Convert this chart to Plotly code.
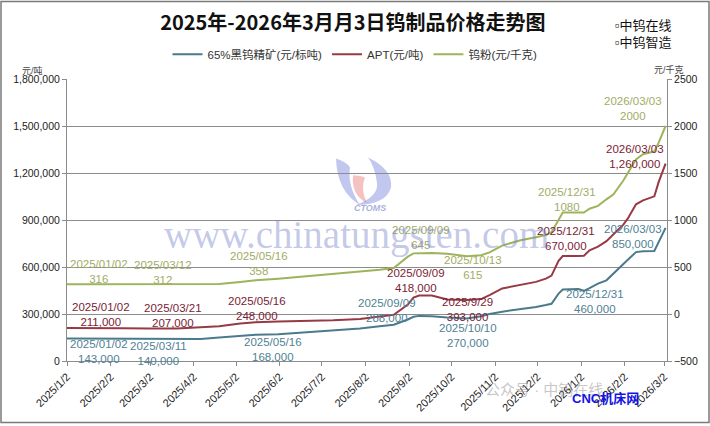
import plotly.graph_objects as go
import pandas as pd

# trading-day samples
dates = [
    "2025-01-02", "2025-01-20", "2025-02-10", "2025-03-01", "2025-03-12", "2025-03-21",
    "2025-04-07", "2025-04-20", "2025-05-05", "2025-05-16", "2025-06-01", "2025-06-20",
    "2025-07-10", "2025-07-29", "2025-08-12", "2025-08-22", "2025-09-01", "2025-09-05",
    "2025-09-09", "2025-09-18", "2025-09-29", "2025-10-10", "2025-10-13", "2025-10-23",
    "2025-10-29", "2025-11-07", "2025-11-20", "2025-12-01", "2025-12-08", "2025-12-12",
    "2025-12-17", "2025-12-20", "2025-12-31", "2026-01-04", "2026-01-08", "2026-01-14",
    "2026-01-20", "2026-01-25", "2026-02-01", "2026-02-04", "2026-02-10", "2026-02-15",
    "2026-02-23", "2026-02-26", "2026-03-03",
]
concentrate = [  # 65%黑钨精矿, 元/标吨
    143000, 142000, 141000, 140000, 140000, 140000,
    141000, 150000, 160000, 168000, 170000, 182000,
    195000, 208000, 222000, 232000, 265000, 282000,
    288000, 286000, 278000, 270000, 271000, 285000,
    300000, 315000, 330000, 345000, 357000, 365000,
    430000, 456000, 460000, 448000, 465000, 494000,
    515000, 560000, 620000, 645000, 695000, 700000,
    702000, 760000, 850000,
]
apt = [  # APT, 元/吨
    211000, 212000, 209000, 207000, 207000, 207000,
    215000, 222000, 240000, 248000, 252000, 255000,
    260000, 268000, 285000, 295000, 360000, 405000,
    418000, 418000, 393000, 390000, 390000, 395000,
    420000, 463000, 485000, 505000, 526000, 545000,
    640000, 670000, 670000, 672000, 706000, 730000,
    765000, 811000, 870000, 907000, 1000000, 1025000,
    1051000, 1140000, 1260000,
]
powder = [  # 钨粉, 元/千克
    316, 316, 313, 312, 312, 312,
    313, 320, 340, 358, 375, 400,
    425, 445, 470, 490, 610, 645,
    645, 650, 640, 620, 615, 625,
    655, 728, 785, 817, 840, 870,
    1000, 1080, 1080, 1080, 1120, 1150,
    1220, 1274, 1420, 1500, 1645, 1700,
    1730, 1820, 2000,
]

tick_labels = [
    "2025/1/2", "2025/2/2", "2025/3/2", "2025/4/2", "2025/5/2", "2025/6/2", "2025/7/2",
    "2025/8/2", "2025/9/2", "2025/10/2", "2025/11/2", "2025/12/2", "2026/1/2",
    "2026/2/2", "2026/3/2",
]

conc_labels = [("2025/01/02", "143,000"), ("2025/03/11", "140,000"), ("2025/05/16", "168,000"),
               ("2025/09/09", "288,000"), ("2025/10/10", "270,000"), ("2025/12/31", "460,000"),
               ("2026/03/03", "850,000")]
apt_labels = [("2025/01/02", "211,000"), ("2025/03/21", "207,000"), ("2025/05/16", "248,000"),
              ("2025/09/09", "418,000"), ("2025/9/29", "393,000"), ("2025/12/31", "670,000"),
              ("2026/03/03", "1,260,000")]
powder_labels = [("2025/01/02", "316"), ("2025/03/12", "312"), ("2025/05/16", "358"),
                 ("2025/09/09", "645"), ("2025/10/13", "615"), ("2025/12/31", "1080"),
                 ("2026/03/03", "2000")]

C_CONC, C_APT, C_POW = "#4a7a8c", "#973a44", "#9db45a"
T_CONC, T_APT, T_POW = "#4f8194", "#7a2232", "#a2ac66"
NUM_FONT = "Liberation Sans, Noto Sans CJK SC"

x = pd.to_datetime(dates)

fig = go.Figure()
fig.add_trace(go.Scatter(x=x, y=concentrate, name="65%黑钨精矿(元/标吨)", mode="lines",
                         line=dict(color=C_CONC, width=2)))
fig.add_trace(go.Scatter(x=x, y=apt, name="APT(元/吨)", mode="lines",
                         line=dict(color=C_APT, width=2)))
fig.add_trace(go.Scatter(x=x, y=powder, name="钨粉(元/千克)", mode="lines", yaxis="y2",
                         line=dict(color=C_POW, width=2)))

# label anchor points (date, left-axis value) for the two-line callouts
conc_pos = [("2025-01-25", 61500), ("2025-03-08", 50700), ("2025-05-28", 72900),
            ("2025-08-17", 323400), ("2025-10-14", 161700), ("2026-01-12", 378600),
            ("2026-02-08", 795900)]
apt_pos = [("2025-01-26", 298100), ("2025-03-18", 291700), ("2025-05-17", 336100),
           ("2025-09-07", 513700), ("2025-10-13", 329800), ("2025-12-22", 780100),
           ("2026-02-09", 1303300)]
pow_pos = [("2025-01-25", 570800), ("2025-03-11", 564400), ("2025-05-18", 624700),
           ("2025-09-10", 789600), ("2025-10-17", 596100), ("2025-12-23", 1030600),
           ("2026-02-08", 1614000)]

annotations = []
for labels, pos, col in [(conc_labels, conc_pos, T_CONC), (apt_labels, apt_pos, T_APT),
                         (powder_labels, pow_pos, T_POW)]:
    for (d, v), (px, py) in zip(labels, pos):
        annotations.append(dict(x=px, y=py, xref="x", yref="y", text=f"{d}<br>{v}",
                                showarrow=False, align="center",
                                font=dict(family=NUM_FONT, size=11.5, color=col)))


def paper(px, py):
    return (px - 67) / 600, (363 - py) / 284


def note(px, py, text, size, color, family=NUM_FONT, **kw):
    xp, yp = paper(px, py)
    annotations.append(dict(x=xp, y=yp, xref="paper", yref="paper", text=text,
                            showarrow=False, font=dict(family=family, size=size, color=color),
                            **kw))


def blob(points, fill):
    # closed quadratic-curve outline given in page pixels
    pts = [paper(*p) for p in points]
    d = f"M{pts[0][0]:.4f},{pts[0][1]:.4f}"
    for i in range(1, len(pts) - 1, 2):
        d += f" Q{pts[i][0]:.4f},{pts[i][1]:.4f} {pts[i + 1][0]:.4f},{pts[i + 1][1]:.4f}"
    return dict(type="path", xref="paper", yref="paper", path=d + " Z",
                fillcolor=fill, line=dict(width=0), layer="below")


# watermarks
note(356, 236, "www.chinatungsten.com", 39, "rgba(125,135,205,0.45)", family="Liberation Serif")
note(370, 209, "<b><i>CTOMS</i></b>", 9, "rgba(110,120,200,0.6)")
note(605, 402, "公众号 · 中钨在线", 15, "rgba(150,150,150,0.55)")
note(641, 410, "<b>CNC机床网</b>", 13, "#1414e6")

# axis units and corner marks
note(20, 63, "元/吨", 9, "#444")
note(686, 63, "元/千克", 9, "#444")
note(674, 16, "▫中钨在线", 13, "#111")
note(674, 33, "▫中钨智造", 13, "#111")

bx0, by0 = paper(1, 425)
bx1, by1 = paper(709, 1)

logo = [
    blob([(336, 159), (337, 192), (360, 206), (347, 186), (350, 168), (346, 162), (336, 159)],
         "rgba(120,130,220,0.45)"),
    blob([(353, 176), (351, 196), (367, 204), (360, 190), (365, 178), (359, 176), (353, 176)],
         "rgba(232,120,120,0.45)"),
    blob([(368, 158), (393, 170), (391, 188), (387, 205), (356, 206), (379, 197), (377, 184),
          (375, 167), (368, 158)], "rgba(120,130,220,0.45)"),
]

fig.update_layout(
    width=710, height=426,
    margin=dict(l=67, r=43, t=79, b=63),
    paper_bgcolor="white", plot_bgcolor="white",
    font=dict(family=NUM_FONT, size=11, color="#222"),
    title=dict(text="<b>2025年-2026年3月月3日钨制品价格走势图</b>", x=0.497, y=0.945,
               xanchor="center", yanchor="middle",
               font=dict(family="Noto Sans CJK SC", size=20, color="#111")),
    legend=dict(orientation="h", x=0.48, xanchor="center", y=1.088, yanchor="middle",
                itemwidth=30, font=dict(family=NUM_FONT, size=11.5, color="#333"),
                bgcolor="rgba(0,0,0,0)"),
    showlegend=True,
    xaxis=dict(
        type="date", range=["2025-01-02", "2026-03-04"],
        tickvals=pd.to_datetime(tick_labels, format="%Y/%m/%d"), ticktext=tick_labels,
        tickangle=-45, tickfont=dict(size=11, color="#222"),
        showgrid=False, showline=True, linecolor="#8c8c8c", linewidth=1,
        ticks="outside", ticklen=4, tickcolor="#8c8c8c", zeroline=False,
    ),
    yaxis=dict(
        range=[0, 1800000], tickvals=[0, 300000, 600000, 900000, 1200000, 1500000, 1800000],
        tickformat=",d", tickfont=dict(size=10.5, color="#222"),
        showgrid=True, gridcolor="#8c8c8c", gridwidth=1,
        showline=True, linecolor="#8c8c8c", ticks="outside", ticklen=4, tickcolor="#8c8c8c",
        zeroline=False,
    ),
    yaxis2=dict(
        overlaying="y", side="right", range=[-500, 2500], dtick=500,
        tickfont=dict(size=10.5, color="#222"), showgrid=False,
        showline=True, linecolor="#8c8c8c", ticks="outside", ticklen=4, tickcolor="#8c8c8c",
        zeroline=False,
    ),
    annotations=annotations,
    shapes=logo + [dict(type="rect", xref="paper", yref="paper", x0=bx0, y0=by0, x1=bx1, y1=by1,
                        line=dict(color="#7a7a7a", width=1.5), layer="below")],
)

# the page's default 8px body margin would shift the chart; drop it
fig.write_html("out.html", config={"displayModeBar": False},
               post_script="document.body.style.margin='0';")
